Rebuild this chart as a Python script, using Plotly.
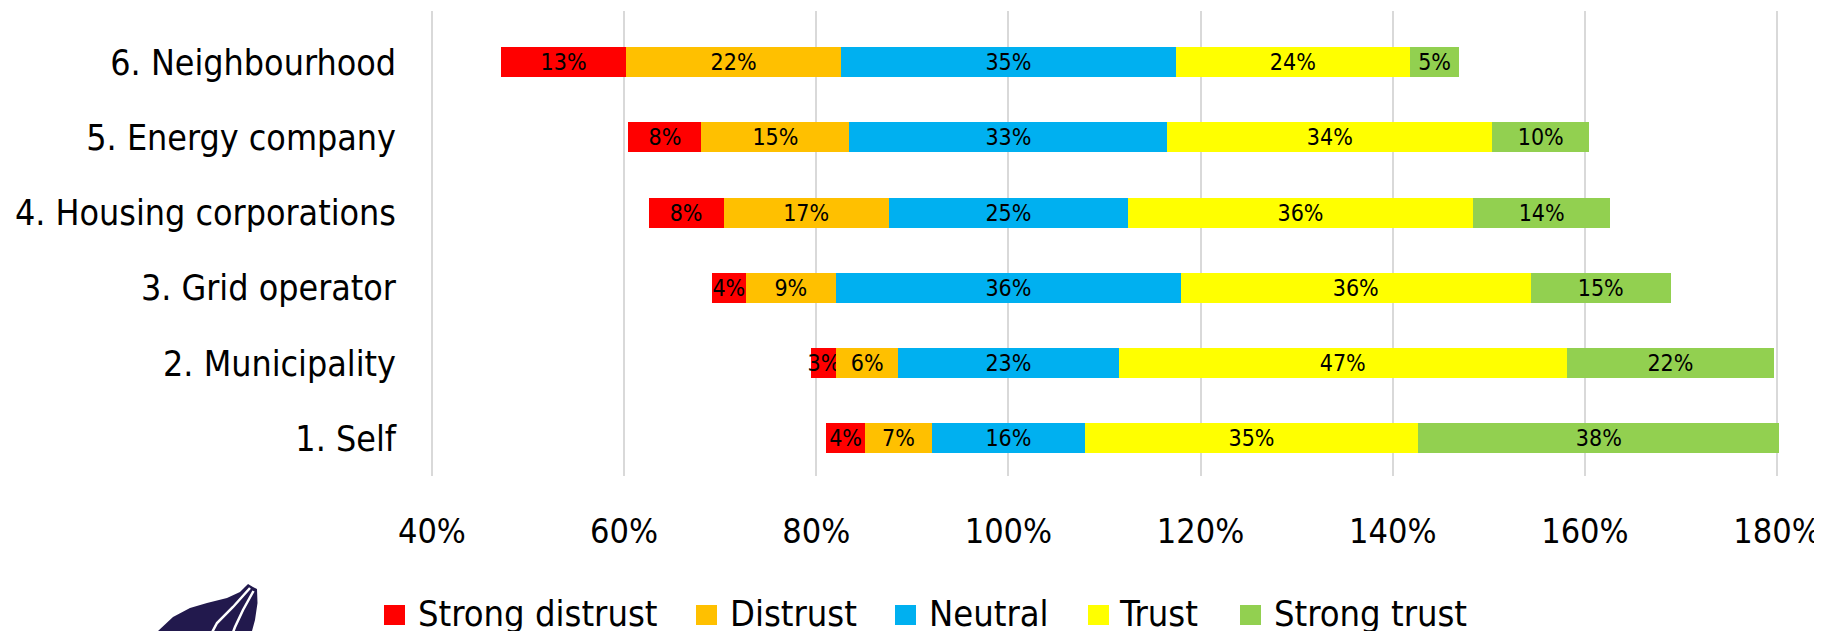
import plotly.graph_objects as go

categories = ["1. Self", "2. Municipality", "3. Grid operator",
              "4. Housing corporations", "5. Energy company", "6. Neighbourhood"]
strong_distrust = [4.0, 2.6, 3.5, 7.8, 7.6, 13.0]
distrust = [7.0, 6.4, 9.4, 17.2, 15.4, 22.4]
neutral = [15.9, 23.0, 35.9, 24.9, 33.1, 34.8]
trust = [34.7, 46.6, 36.4, 35.9, 33.8, 24.4]
strong_trust = [37.6, 21.6, 14.6, 14.3, 10.1, 5.1]
series_names = ["Strong distrust", "Distrust", "Neutral", "Trust", "Strong trust"]
colors = ["#FF0000", "#FFC000", "#00B0F0", "#FFFF00", "#92D050"]
tick_vals = [40, 60, 80, 100, 120, 140, 160, 180]
tick_text = ["40%", "60%", "80%", "100%", "120%", "140%", "160%", "180%"]

FONT = "DejaVu Sans Condensed, DejaVu Sans, sans-serif"

# invisible offset so that Neutral is centred on 100%
offset = [100 - n / 2 - d - s for n, d, s in zip(neutral, distrust, strong_distrust)]

W, H = 1822, 631
SHIFT = 8  # page body margin
ML, MR, MT, MB = 422, 51, 3, 163
PW, PH = W - ML - MR, H - MT - MB

fig = go.Figure()
fig.add_trace(go.Bar(y=categories, x=offset, orientation="h",
                     marker=dict(color="rgba(0,0,0,0)", line=dict(width=0)),
                     showlegend=False, hoverinfo="skip"))
for name, vals, col in zip(series_names,
                           [strong_distrust, distrust, neutral, trust, strong_trust],
                           colors):
    fig.add_trace(go.Bar(
        y=categories, x=vals, orientation="h", name=name, showlegend=False,
        marker=dict(color=col, line=dict(width=0)),
        text=[f"{round(v)}%" for v in vals],
        textposition="inside", insidetextanchor="middle", textangle=0,
        constraintext="none",
        textfont=dict(family=FONT, size=23, color="black"),
    ))


def pp(x, y):
    x, y = x - SHIFT, y - SHIFT
    return (x - ML) / PW, (H - MB - y) / PH


def path(points, close=True):
    s = ""
    for i, (x, y) in enumerate(points):
        px, py = pp(x, y)
        s += ("M" if i == 0 else "L") + f"{px:.5f},{py:.5f} "
    return s + ("Z" if close else "")


shapes = []
annotations = []

# custom legend (square swatches + labels)
legend_sq_x = [384, 696, 895, 1088, 1240]
legend_txt_x = [416, 728, 927, 1117, 1272]
for name, col, sx, tx in zip(series_names, colors, legend_sq_x, legend_txt_x):
    x0, y0 = pp(sx, 625)
    x1, y1 = pp(sx + 21, 605)
    shapes.append(dict(type="rect", xref="paper", yref="paper",
                       x0=x0, x1=x1, y0=y0, y1=y1,
                       fillcolor=col, line=dict(width=0)))
    ax, ay = pp(tx, 613)
    annotations.append(dict(text=name, xref="paper", yref="paper", x=ax, y=ay,
                            xanchor="left", yanchor="middle", showarrow=False,
                            font=dict(family=FONT, size=36, color="black")))

# logo (decorative swoosh, partially cropped at the bottom)
body = [(150, 640), (158, 631), (173, 617), (190, 608), (207, 603), (227, 598),
        (240, 592), (248, 584), (253, 587), (257, 589), (257.5, 603), (255, 620),
        (252, 631), (250, 640)]
shapes.append(dict(type="path", xref="paper", yref="paper", path=path(body),
                   fillcolor="#22194D", line=dict(width=0), layer="above"))
gap1 = [(208, 640), (217, 623), (233, 607), (250, 588)]
gap2 = [(230, 640), (235, 627), (243, 610), (253.5, 591)]
for g in (gap1, gap2):
    shapes.append(dict(type="path", xref="paper", yref="paper", path=path(g, False),
                       line=dict(color="white", width=2.5), layer="above"))

fig.update_layout(
    barmode="stack", bargap=0.6,
    width=W, height=H,
    margin=dict(l=ML, r=MR, t=MT, b=MB, autoexpand=False),
    paper_bgcolor="white", plot_bgcolor="white",
    font=dict(family=FONT, color="black"),
    xaxis=dict(range=[39.8, 180.2], tickvals=tick_vals, ticktext=tick_text,
               showgrid=True, gridcolor="#D9D9D9", gridwidth=1.5,
               zeroline=False, showline=False, ticks="", automargin=False,
               tickfont=dict(family=FONT, size=34, color="black"),
               ticklabelstandoff=32, fixedrange=True),
    yaxis=dict(showgrid=False, zeroline=False, showline=False, ticks="",
               automargin=False,
               tickfont=dict(family=FONT, size=35.5, color="black"),
               ticklabelstandoff=33, range=[-0.5, 5.68]),
    showlegend=False,
    shapes=shapes,
    annotations=annotations,
)

fig.write_html("out.html")
